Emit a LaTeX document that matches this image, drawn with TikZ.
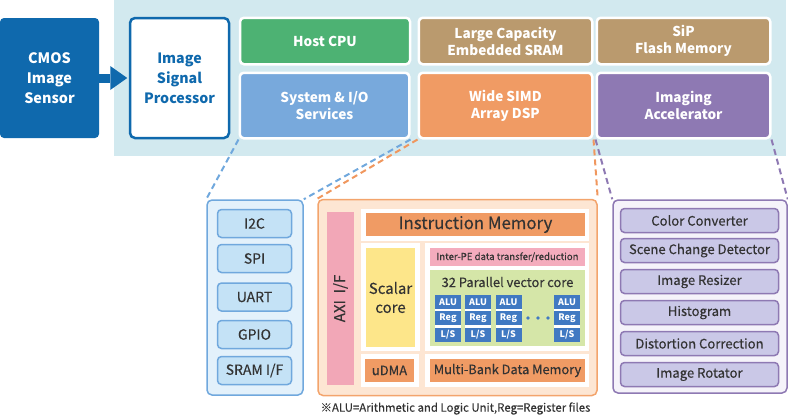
\documentclass[tikz,border=0pt]{standalone}
\usepackage{fontspec}
\setmainfont{Noto Sans CJK JP}
\newfontfamily\medfont[FakeBold=0.3]{Noto Sans CJK JP}
\usetikzlibrary{arrows.meta}
\definecolor{bgblue}{HTML}{D2E9EF}
\definecolor{cmosblue}{HTML}{0F69AD}
\definecolor{hostgreen}{HTML}{4DB273}
\definecolor{tanbox}{HTML}{BA9A6E}
\definecolor{sysblue}{HTML}{78A9DC}
\definecolor{dsporange}{HTML}{F09B64}
\definecolor{accpurple}{HTML}{8E79B3}
\definecolor{iofill}{HTML}{E3F1FB}
\definecolor{ioitem}{HTML}{C4E2F6}
\definecolor{ioline}{HTML}{70A8DD}
\definecolor{dspfill}{HTML}{FDE6D3}
\definecolor{dspline}{HTML}{F3A46C}
\definecolor{dashorange}{HTML}{F0975E}
\definecolor{axipink}{HTML}{F2A7B7}
\definecolor{scalaryellow}{HTML}{FDE68A}
\definecolor{vecgreen}{HTML}{D5E6A8}
\definecolor{interpink}{HTML}{F4ACBD}
\definecolor{cellblue}{HTML}{4079C2}
\definecolor{accfill}{HTML}{F5F3FA}
\definecolor{accitem}{HTML}{CAC8E7}
\definecolor{txt}{HTML}{333333}
\pgfdeclarelayer{back}
\pgfsetlayers{back,main}
\begin{document}
\begin{tikzpicture}[x=1pt,y=-1pt,
  base/.style={rectangle, inner sep=0pt, align=center},
  topbox/.style={base, rounded corners=4pt, draw=white, line width=2.5pt, text=white,
    font=\bfseries\fontsize{13.6}{17}\selectfont},
  panel/.style={base, rounded corners=5pt, line width=1.5pt},
  ioitemst/.style={base, rounded corners=4pt, fill=ioitem, draw=ioline, line width=1.5pt,
    minimum width=74pt, minimum height=28pt, text=txt, font=\medfont\fontsize{14}{15}\selectfont},
  accitemst/.style={base, rounded corners=4pt, fill=accitem, draw=accpurple, line width=1.5pt,
    minimum width=158pt, minimum height=24pt, text=txt, font=\medfont\fontsize{13.1}{15}\selectfont},
  cellwhite/.style={base, fill=white},
  inner/.style={base, text=txt},
  colback/.style={base, fill=white, minimum width=26pt, minimum height=47pt},
  cellst/.style={base, fill=cellblue, text=white, font=\bfseries\fontsize{9}{9}\selectfont,
    minimum width=26pt, minimum height=13.5pt},
  link/.style={dash pattern=on 6pt off 4pt, line width=2pt}
]
\useasboundingbox (0,0) rectangle (788,416);
\begin{pgfonlayer}{back}
\fill[bgblue] (114,0) rectangle (786,156);
\end{pgfonlayer}

% top row
\node[base, rounded corners=4pt, fill=cmosblue, text=white, minimum width=99pt, minimum height=120pt,
  font=\bfseries\fontsize{14.4}{20}\selectfont] (cmos) at (49.5,78) {CMOS\\Image\\Sensor};
\node[base, rounded corners=5pt, fill=white, draw=cmosblue, line width=2.5pt, text=cmosblue,
  minimum width=99pt, minimum height=120pt, font=\bfseries\fontsize{14.2}{20}\selectfont]
  (isp) at (179.5,78) {Image\\Signal\\Processor};
\draw[cmosblue, line width=9pt, -{Triangle[length=17pt,width=24pt,line width=0pt]}]
  (cmos.east) -- ([xshift=-1.5pt]isp.west);

\node[topbox, fill=hostgreen, minimum width=170pt, minimum height=46.5pt] (host) at (325,41) {Host CPU};
\node[topbox, fill=sysblue, minimum width=169.5pt, minimum height=65.5pt] (sysio) at (324.5,105.5) {System \& I/O\\Services};
\node[topbox, fill=tanbox, minimum width=173.5pt, minimum height=46.5pt] (sram) at (505.5,41) {Large Capacity\\Embedded SRAM};
\node[topbox, fill=dsporange, minimum width=173.5pt, minimum height=65.5pt] (dsp) at (505.5,105.5) {Wide SIMD\\Array DSP};
\node[topbox, fill=tanbox, minimum width=173.5pt, minimum height=46.5pt] (sip) at (683.5,41) {SiP\\Flash Memory};
\node[topbox, fill=accpurple, minimum width=173.5pt, minimum height=65.5pt] (acc) at (683.5,105.5) {Imaging\\Accelerator};

% I/O panel
\node[panel, fill=iofill, draw=ioline, minimum width=96pt, minimum height=195pt] (iop) at (255,297.5) {};
\node[ioitemst] (i2c) at (254.5,223.5) {I2C};
\node[ioitemst] (spi) at (254.5,258.5) {SPI};
\node[ioitemst] (uart) at (254.5,297) {UART};
\node[ioitemst] (gpio) at (254.5,334.5) {GPIO};
\node[ioitemst] (sramif) at (254.5,370.5) {SRAM I/F};

% DSP panel
\node[panel, fill=dspfill, draw=dspline, minimum width=279pt, minimum height=196pt] (dspp) at (457.5,297.5) {};
\node[base, fill=axipink, minimum width=27pt, minimum height=173pt] (axi) at (340.5,298.5) {};
\node[text=txt, rotate=90, font=\medfont\fontsize{15}{15}\selectfont] (axil) at (axi.center) {AXI\ \ I/F};
\node[cellwhite, minimum width=228pt, minimum height=32pt] (topcell) at (475,225) {};
\node[cellwhite, minimum width=59pt, minimum height=108pt] (scell) at (390.5,297) {};
\node[cellwhite, minimum width=164pt, minimum height=108pt] (vcell) at (507,297) {};
\node[cellwhite, minimum width=58pt, minimum height=33pt] (ucell) at (390,370.5) {};
\node[cellwhite, minimum width=164pt, minimum height=33pt] (mcell) at (507,370.5) {};
\node[inner, fill=dsporange, minimum width=219pt, minimum height=23pt, font=\medfont\fontsize{16.8}{16}\selectfont] (imem) at (475.5,224.5) {Instruction Memory};
\node[inner, fill=scalaryellow, minimum width=49pt, minimum height=99pt, font=\medfont\fontsize{15}{19}\selectfont] (scal) at (390.5,297.5) {Scalar\\core};
\node[inner, fill=interpink, minimum width=155pt, minimum height=18pt, font=\medfont\fontsize{9.6}{10}\selectfont] (inter) at (507.5,257) {Inter-PE data transfer/reduction};
\node[inner, fill=vecgreen, minimum width=155pt, minimum height=76pt] (vec) at (507.5,308) {};
\node[inner, font=\medfont\fontsize{12.9}{13}\selectfont] (vecl) at (507.5,282) {32 Parallel vector core};
\node[inner, fill=dsporange, minimum width=49pt, minimum height=23pt, font=\medfont\fontsize{13}{13}\selectfont] (udma) at (389.5,370.5) {uDMA};
\node[inner, fill=dsporange, minimum width=155pt, minimum height=23pt, font=\medfont\fontsize{12.8}{13}\selectfont] (mbank) at (507.5,370.5) {Multi-Bank Data Memory};
\foreach \cx/\nm in {448/a, 478/b, 508.5/c, 567/d} {
  \node[colback] (col\nm) at (\cx,318.5) {};
  \node[cellst, minimum height=13.5pt] (alu\nm) at (\cx,301.75) {ALU};
  \node[cellst, minimum height=14pt] (reg\nm) at (\cx,318) {Reg};
  \node[cellst, minimum height=14.5pt] (ls\nm) at (\cx,334.75) {L/S};
}
\foreach \dx in {528, 538, 548} {
  \fill[cellblue] (\dx,318) circle (1.9pt);
}

% accelerator panel
\node[panel, fill=accfill, draw=accpurple, minimum width=174pt, minimum height=193pt] (accp) at (700,296.5) {};
\node[accitemst] (cconv) at (699.5,220.5) {Color Converter};
\node[accitemst] (scene) at (699.5,250.5) {Scene Change Detector};
\node[accitemst] (resz) at (699.5,281.5) {Image Resizer};
\node[accitemst] (hist) at (699.5,312.5) {Histogram};
\node[accitemst] (dist) at (699.5,343.5) {Distortion Correction};
\node[accitemst] (rot) at (699.5,374.5) {Image Rotator};

\node[inner, font=\medfont\fontsize{11.4}{11}\selectfont] (note) at (455.5,408.5) {※ALU=Arithmetic and Logic Unit,Reg=Register files};

\begin{pgfonlayer}{back}
\draw[link, ioline] (sysio.south west) -- (iop.north west);
\draw[link, ioline] (sysio.south east) -- (iop.north east);
\draw[link, dashorange] (dsp.south west) -- (dspp.north west);
\draw[link, dashorange] (dsp.south east) -- (dspp.north east);
\draw[link, accpurple] (acc.south west) -- (accp.north west);
\draw[link, accpurple] (acc.south east) -- (accp.north east);
\end{pgfonlayer}
\end{tikzpicture}
\end{document}
